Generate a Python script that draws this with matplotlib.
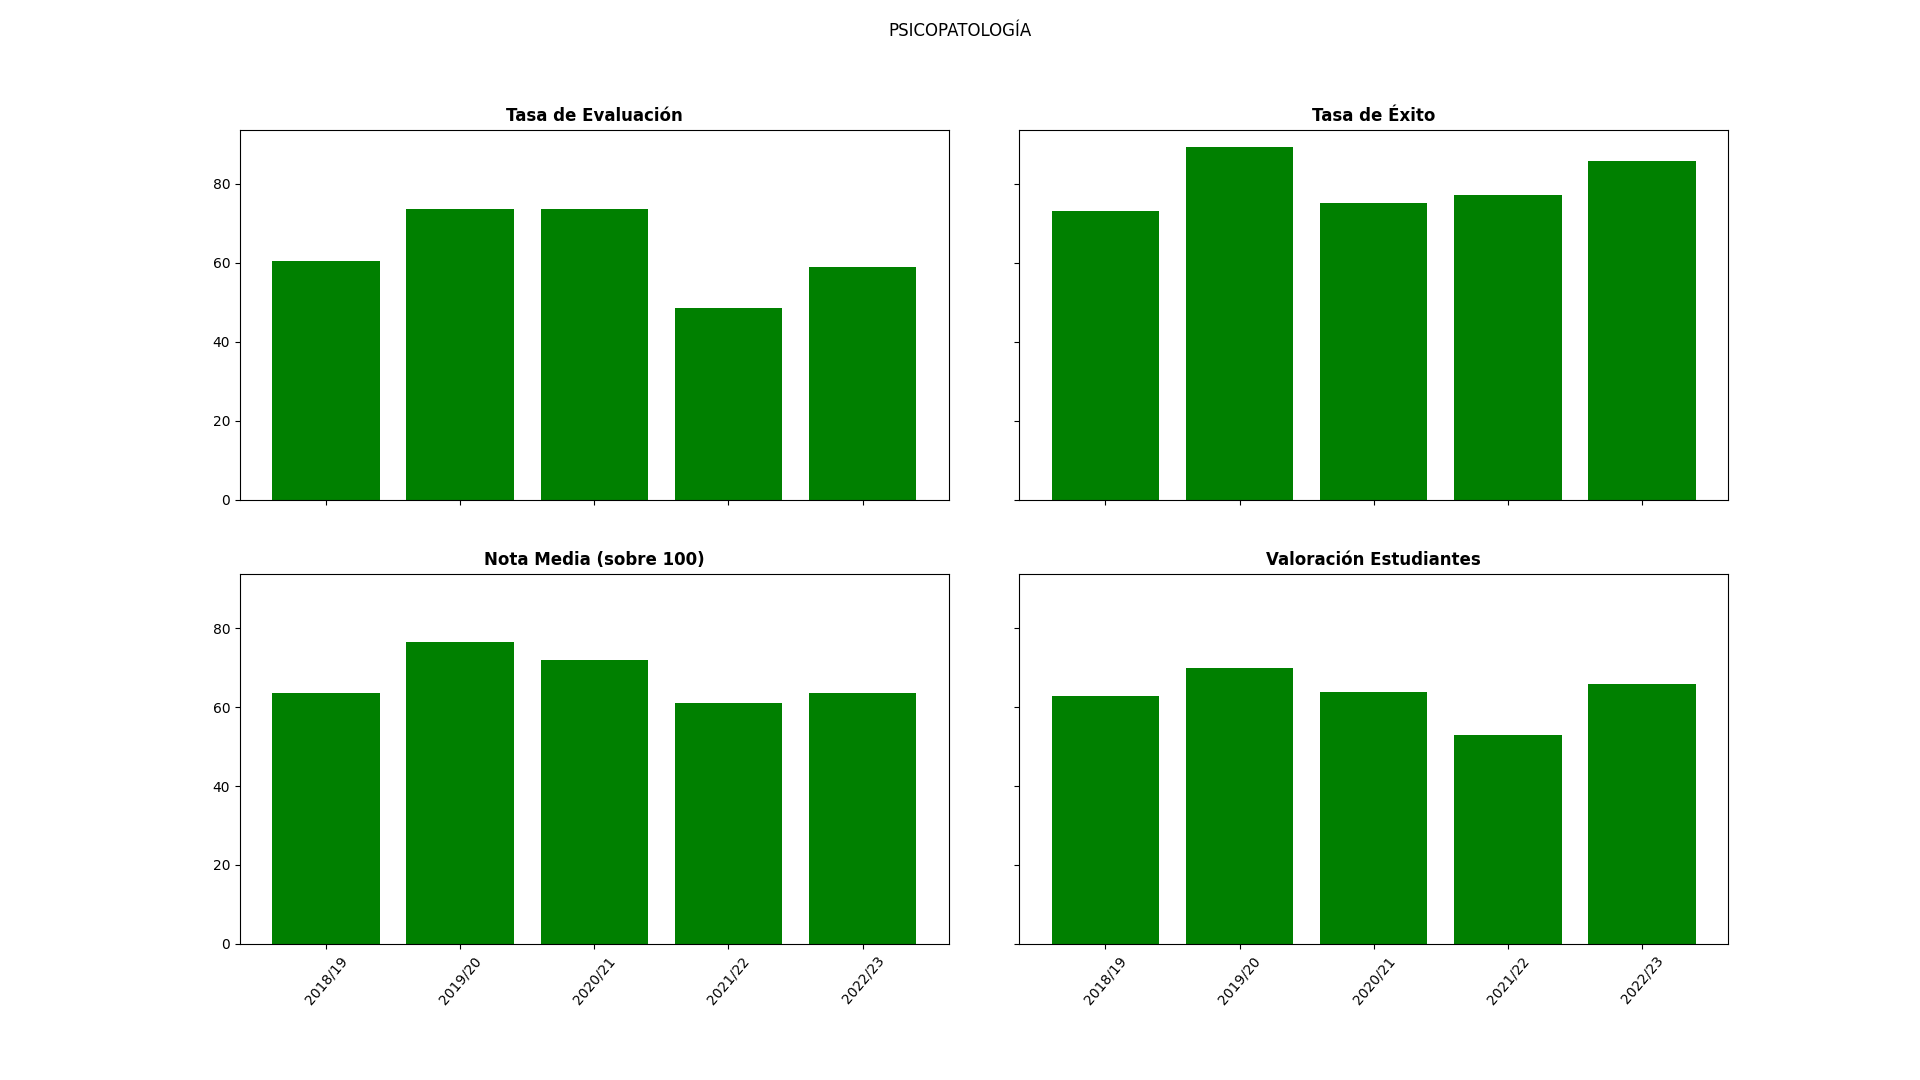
import matplotlib
matplotlib.use("Agg")
import matplotlib.pyplot as plt

cursos = ["2018/19", "2019/20", "2020/21", "2021/22", "2022/23"]

tasa_evaluacion = [60.6, 73.7, 73.7, 48.6, 59.0]
tasa_exito = [73.2, 89.3, 75.2, 77.3, 85.9]
nota_media = [63.6, 76.5, 72.0, 61.1, 63.6]
valoracion = [62.9, 70.0, 63.9, 53.0, 65.9]

titulos = ["Tasa de Evaluación", "Tasa de Éxito",
           "Nota Media (sobre 100)", "Valoración Estudiantes"]
series = [tasa_evaluacion, tasa_exito, nota_media, valoracion]

fig, axs = plt.subplots(2, 2, figsize=(19.2, 10.8), dpi=100, sharex=True, sharey=True)
fig.subplots_adjust(left=0.125, right=0.9, top=0.88, bottom=0.126, wspace=0.1, hspace=0.2)
fig.suptitle("PSICOPATOLOGÍA")

for ax, titulo, valores in zip(axs.flat, titulos, series):
    ax.bar(cursos, valores, color="green")
    ax.set_title(titulo, fontweight="bold")

for ax in axs[1]:
    ax.tick_params(axis="x", labelrotation=50)

fig.savefig("out.png")
